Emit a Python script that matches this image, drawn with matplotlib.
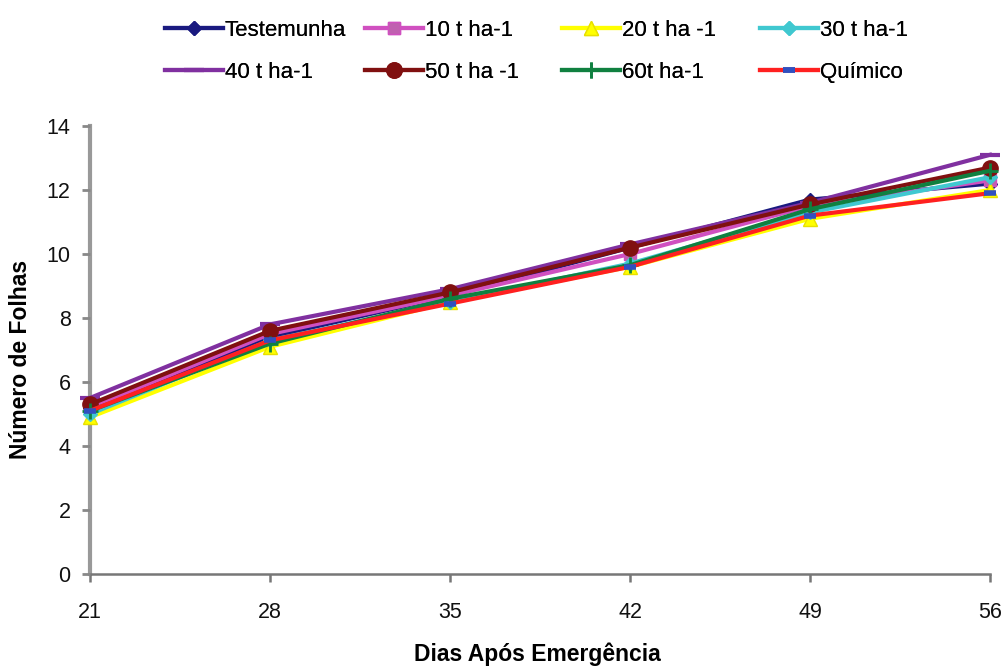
import matplotlib
matplotlib.use("Agg")
import matplotlib.pyplot as plt

dias = [21, 28, 35, 42, 49, 56]
series_names = ["Testemunha", "10 t ha-1", "20 t ha -1", "30 t ha-1",
                "40 t ha-1", "50 t ha -1", "60t ha-1", "Químico"]
testemunha = [5.2, 7.4, 8.7, 10.2, 11.7, 12.2]
t10 = [5.2, 7.5, 8.7, 10.0, 11.5, 12.3]
t20 = [4.9, 7.1, 8.5, 9.6, 11.1, 12.0]
t30 = [5.0, 7.3, 8.5, 9.7, 11.3, 12.4]
t40 = [5.5, 7.8, 8.9, 10.3, 11.6, 13.1]
t50 = [5.3, 7.6, 8.8, 10.2, 11.55, 12.7]
t60 = [5.1, 7.2, 8.6, 9.65, 11.4, 12.6]
quimico = [5.1, 7.3, 8.45, 9.6, 11.2, 11.9]
values = [testemunha, t10, t20, t30, t40, t50, t60, quimico]

styles = [
    dict(color="#1a1a80", marker="D", ms=7, mfc="#1a1a80", mec="#1a1a80"),
    dict(color="#d050c0", marker="s", ms=8, mfc="#c060b0", mec="#d050c0"),
    dict(color="#ffff00", marker="^", ms=10, mfc="#ffff00", mec="#e8e000"),
    dict(color="#40c8d0", marker="D", ms=7, mfc="#40c8d0", mec="#40c8d0"),
    dict(color="#8030a0", marker="_", ms=14, mfc="#8030a0", mec="#8030a0", mew=3),
    dict(color="#801010", marker="o", ms=11, mfc="#801010", mec="#801010"),
    dict(color="#108040", marker="+", ms=12, mfc="#108040", mec="#108040", mew=2),
    dict(color="#ff2020", marker="_", ms=9, mfc="#3050c0", mec="#3050c0", mew=4),
]

plt.rcParams['font.family'] = ['Liberation Sans', 'DejaVu Sans']
fig = plt.figure(figsize=(10.04, 6.68), dpi=100)
ax = fig.add_axes([90/1004, (668-574)/668, 900/1004, 448/668])

handles = []
for name, vals, st in zip(series_names, values, styles):
    h, = ax.plot(dias, vals, lw=3, label=name, clip_on=False, **st)
    handles.append(h)

ax.set_xlim(21, 56)
ax.set_ylim(0, 14)
ax.set_xticks(dias)
ax.set_yticks(range(0, 15, 2))
for s in ["top", "right"]:
    ax.spines[s].set_visible(False)
ax.spines["left"].set_color("#999999")
ax.spines["left"].set_linewidth(3)
ax.spines["bottom"].set_color("#777777")
ax.spines["bottom"].set_linewidth(1.8)
ax.spines["bottom"].set_zorder(0)
ax.spines["left"].set_zorder(0)
ax.tick_params(axis="y", colors="#888888", width=2, length=6, labelsize=15.5,
               labelcolor="#111111", pad=8)
ax.tick_params(axis="x", colors="#777777", width=1.8, length=6, labelsize=15.5,
               labelcolor="#111111", pad=14)
ax.set_xlabel("Dias Após Emergência", fontsize=16.5, fontweight="bold")
ax.set_ylabel("Número de Folhas", fontsize=16.5, fontweight="bold")
ax.xaxis.set_label_coords(0.497, -0.152)
ax.yaxis.set_label_coords(-0.064, 0.478)

col_x = [165, 365, 562, 760]
for c in range(4):
    hs = [handles[c], handles[c + 4]]
    ls = [series_names[c], series_names[c + 4]]
    leg = fig.legend(hs, ls, loc="upper left",
                     bbox_to_anchor=(col_x[c] / 1004, 1 - 20 / 668),
                     frameon=False, fontsize=16, handlelength=2.6,
                     handletextpad=0.1, labelspacing=0.95,
                     borderpad=0, borderaxespad=0)
    fig.add_artist(leg)

fig.savefig("out.png", dpi=100)
